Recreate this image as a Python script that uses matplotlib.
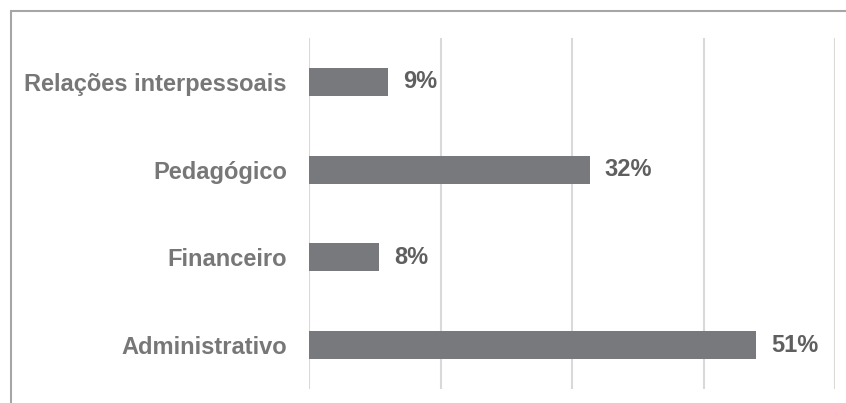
import matplotlib.pyplot as plt
from matplotlib.patches import Rectangle

# categorias de baixo para cima, como no gráfico
categorias = ['Administrativo', 'Financeiro', 'Pedagógico', 'Relações interpessoais']
percentuais = [51, 8, 32, 9]

plt.rcParams['font.family'] = ['Liberation Sans', 'DejaVu Sans']

fig = plt.figure(figsize=(8.46, 4.03), dpi=100)
ax = fig.add_axes([309 / 846, 1 - 389 / 403, (835 - 309) / 846, (389 - 38) / 403])

barras = ax.barh(categorias, percentuais, height=0.32, color='#78797d')

for b, p in zip(barras, percentuais):
    ax.annotate(f'{p}%', (b.get_width(), b.get_y() + b.get_height() / 2),
                xytext=(11, 0), textcoords='offset points', va='center', ha='left',
                fontsize=17, fontweight='bold', color='#5f5f5f')

ax.set_xlim(0, 60)
ax.set_ylim(-0.5, len(categorias) - 0.5)
ax.set_xticks([0, 15, 30, 45, 60])
ax.xaxis.grid(True, color='#d9d9d9', linewidth=1.5)
ax.set_axisbelow(True)
ax.tick_params(axis='x', length=0, labelbottom=False)
ax.tick_params(axis='y', length=0, pad=16)
for lbl in ax.get_yticklabels():
    lbl.set_fontsize(17)
    lbl.set_fontweight('bold')
    lbl.set_color('#777777')
for s in ax.spines.values():
    s.set_visible(False)

# moldura cinza da área do gráfico (cortada à direita e embaixo)
fig.patches.append(Rectangle((10.5 / 846, -0.1), 1.2, 1 - 10.5 / 403 + 0.1,
                             transform=fig.transFigure, fill=False,
                             edgecolor='#a6a6a6', linewidth=1.5))

fig.savefig('out.png', dpi=100)
